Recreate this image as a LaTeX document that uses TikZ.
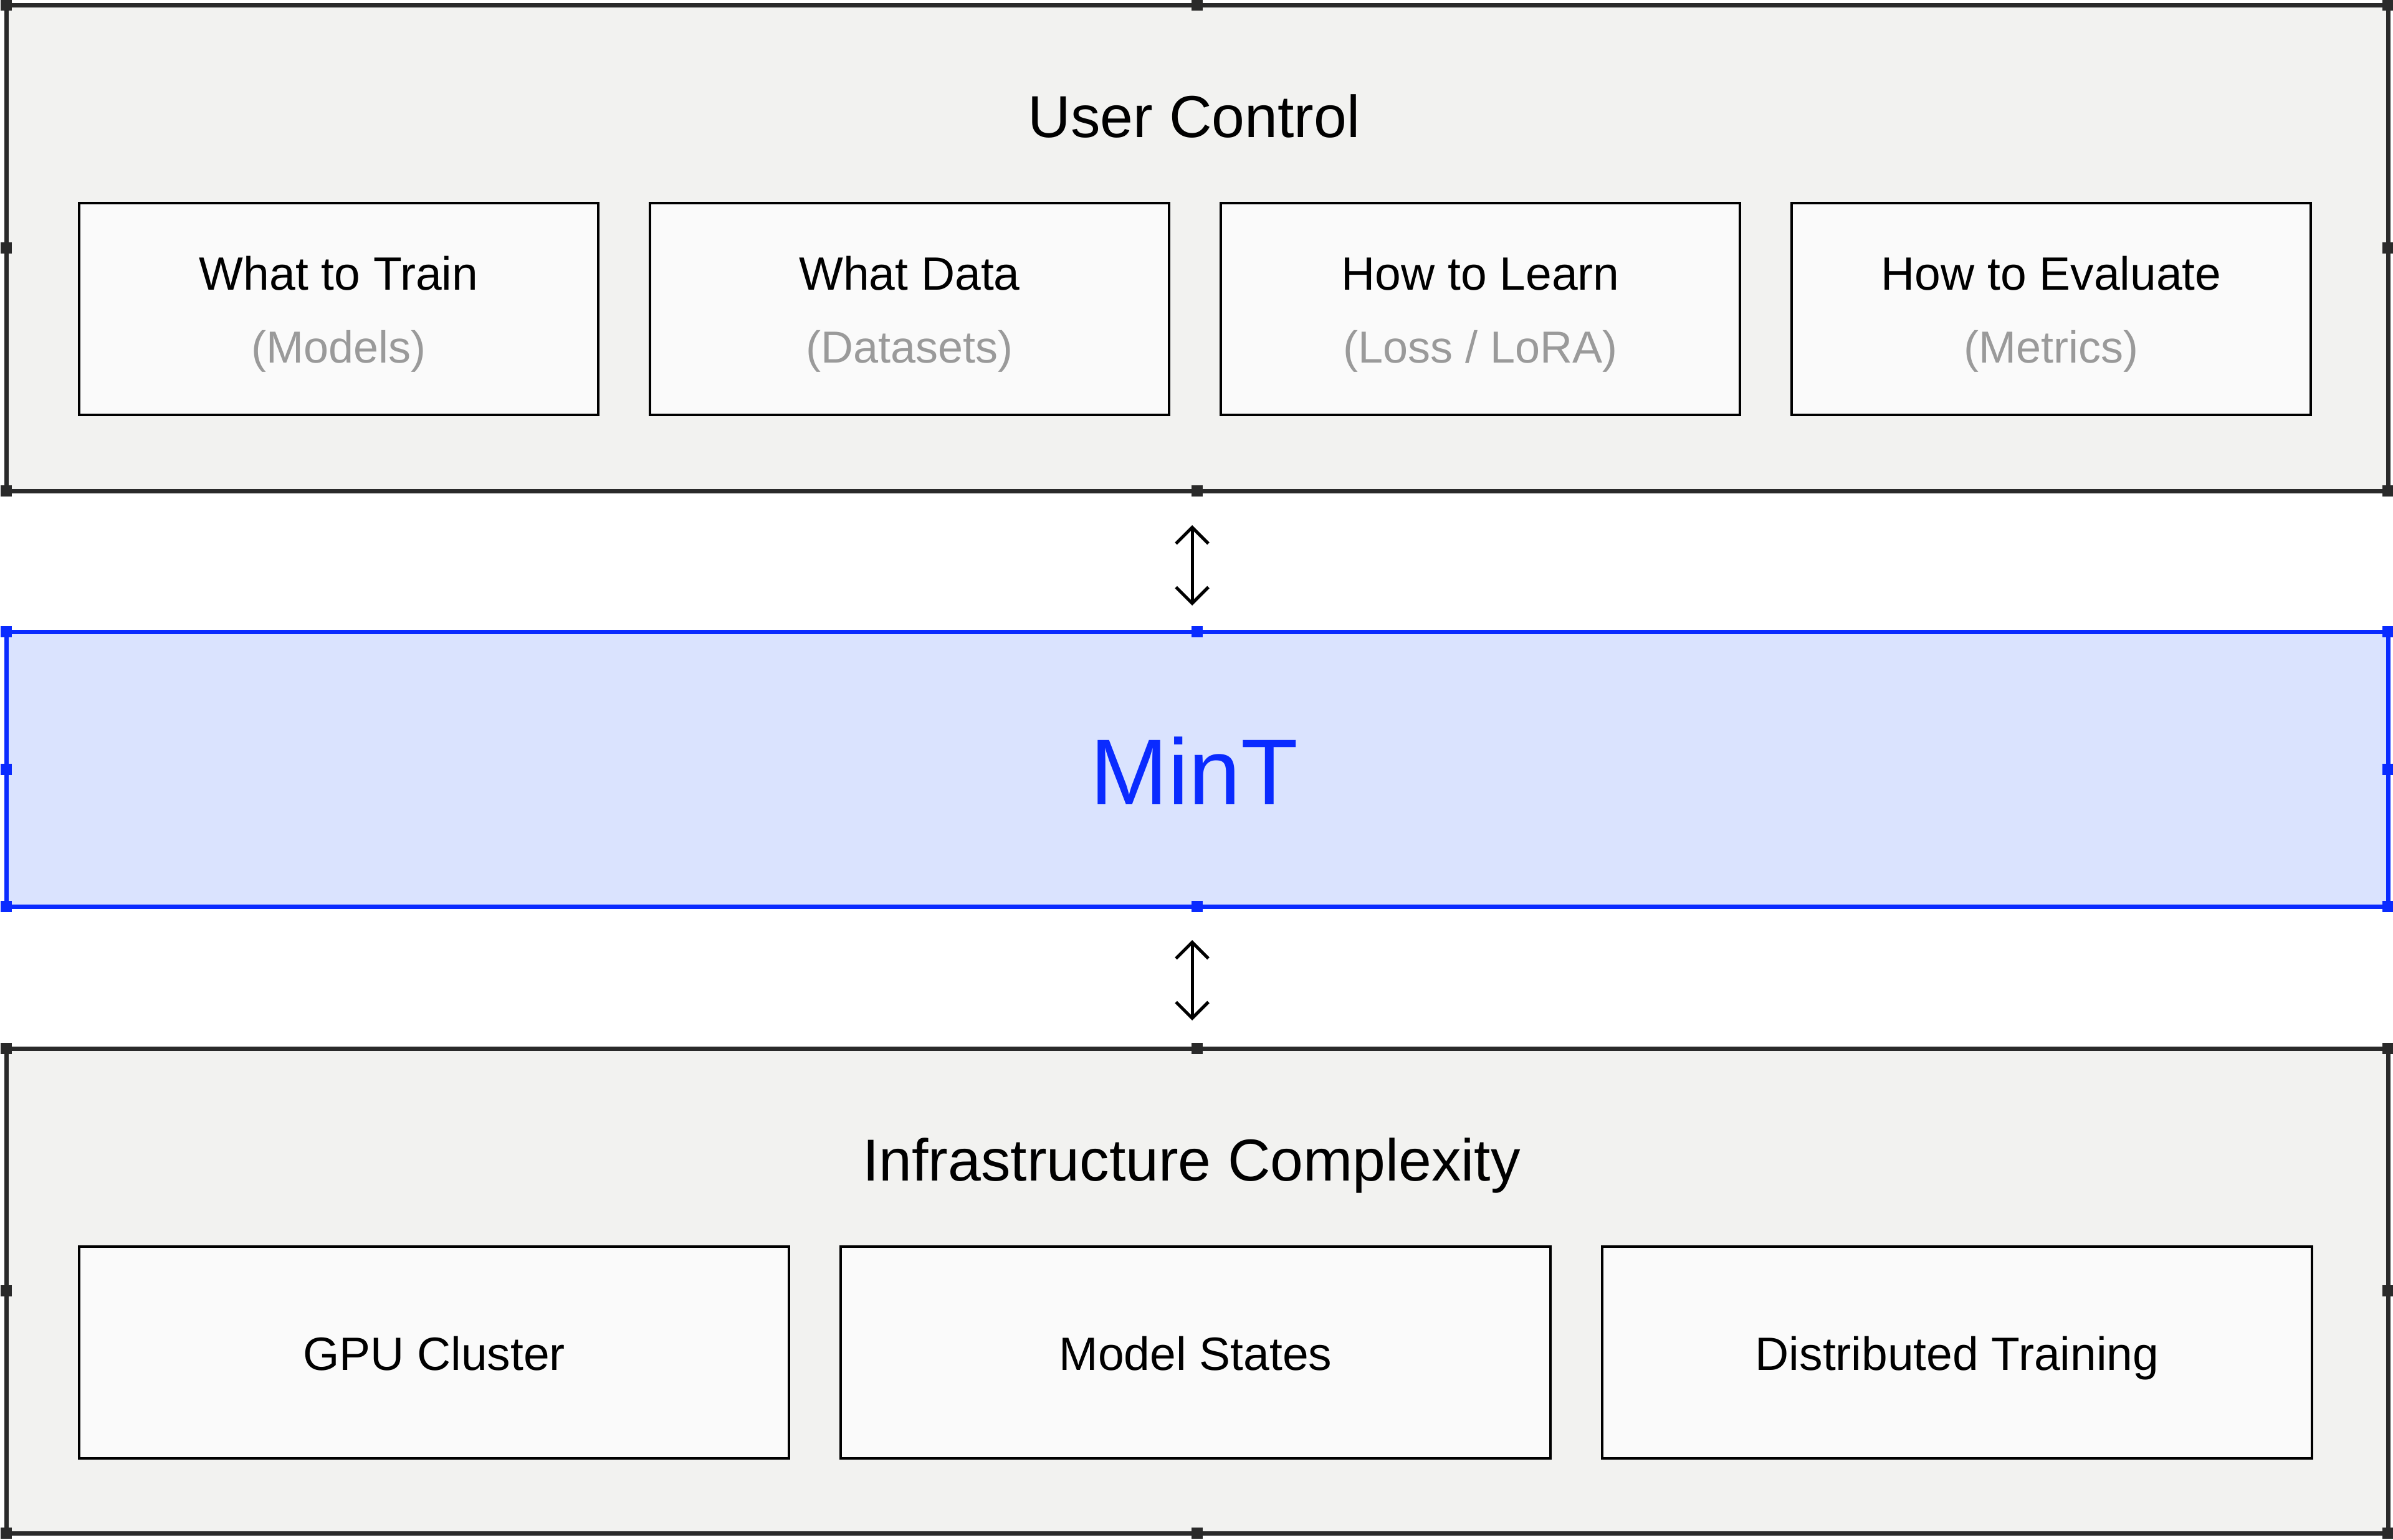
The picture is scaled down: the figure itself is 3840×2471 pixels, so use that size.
\documentclass[tikz,border=0pt]{standalone}
\usepackage{fontspec}
\setmainfont{Liberation Sans}
\usetikzlibrary{arrows.meta}
\definecolor{panelfill}{HTML}{F2F2F0}
\definecolor{boxfill}{HTML}{FAFAFA}
\definecolor{edge}{HTML}{2A2A2A}
\definecolor{mblue}{HTML}{0A2BFF}
\definecolor{mfill}{HTML}{DAE3FE}
\definecolor{subgrey}{HTML}{9A9A9A}
\tikzset{
  panel/.style={draw=edge,fill=panelfill,line width=7pt},
  inbox/.style={draw=black,fill=boxfill,line width=4pt},
  maintxt/.style={font=\fontsize{75}{90}\selectfont,text=black,anchor=base},
  subtxt/.style={font=\fontsize{72}{86}\selectfont,text=subgrey,anchor=base},
  ttl/.style={font=\fontsize{95}{110}\selectfont,anchor=base},
  conn/.style={line width=5pt,{Straight Barb[length=26pt,width=52pt,line width=5pt]}-{Straight Barb[length=26pt,width=52pt,line width=5pt]}},
}
\newcommand{\handles}[5]{% x1 y1 x2 y2 color
  \foreach \hx/\hy in {#1/#2,#3/#2,#1/#4,#3/#4,{(#1+#3)/2}/#2,{(#1+#3)/2}/#4,#1/{(#2+#4)/2},#3/{(#2+#4)/2}}
    \fill[#5] ({\hx-9},{\hy-9}) rectangle ({\hx+9},{\hy+9});
}
\begin{document}
\begin{tikzpicture}[x=1pt,y=-1pt]
\useasboundingbox[fill=white] (0,0) rectangle (3840,2471);
% top panel
\draw[panel] (10,8) rectangle (3832,788);
\handles{10}{8}{3832}{788}{edge}
\node[ttl] (uc) at (1916,220) {User Control};
\foreach \n/\xa/\xb/\ma/\sb in {a/127/960/What to Train/(Models),b/1043/1876/What Data/(Datasets),c/1959/2792/How to Learn/{(Loss / LoRA)},d/2875/3708/How to Evaluate/(Metrics)}{
  \draw[inbox] (\xa,326) rectangle (\xb,666);
  \node[maintxt] (m\n) at ({(\xa+\xb)/2},465) {\ma};
  \node[subtxt] (s\n) at ({(\xa+\xb)/2},582) {\sb};
}
% MinT
\draw[draw=mblue,fill=mfill,line width=7pt] (10,1014) rectangle (3832,1455);
\handles{10}{1014}{3832}{1455}{mblue}
\node[font=\fontsize{150}{170}\selectfont,text=mblue,anchor=base] (mint) at (1916,1291) {MinT};
% bottom panel
\draw[panel] (10,1683) rectangle (3832,2461);
\handles{10}{1683}{3832}{2461}{edge}
\node[ttl] (ic) at (1912,1895) {Infrastructure Complexity};
\foreach \n/\xa/\xb/\ma in {g/127/1266/GPU Cluster,h/1349/2488/Model States,k/2571/3710/Distributed Training}{
  \draw[inbox] (\xa,2001) rectangle (\xb,2341);
  \node[maintxt] (b\n) at ({(\xa+\xb)/2},2199) {\ma};
}
% connectors
\coordinate (t1) at (1913,843);
\coordinate (t2) at (1913,972);
\coordinate (t3) at (1913,1509);
\coordinate (t4) at (1913,1638);
\draw[conn] (t1) -- (t2);
\draw[conn] (t3) -- (t4);
\end{tikzpicture}
\end{document}
